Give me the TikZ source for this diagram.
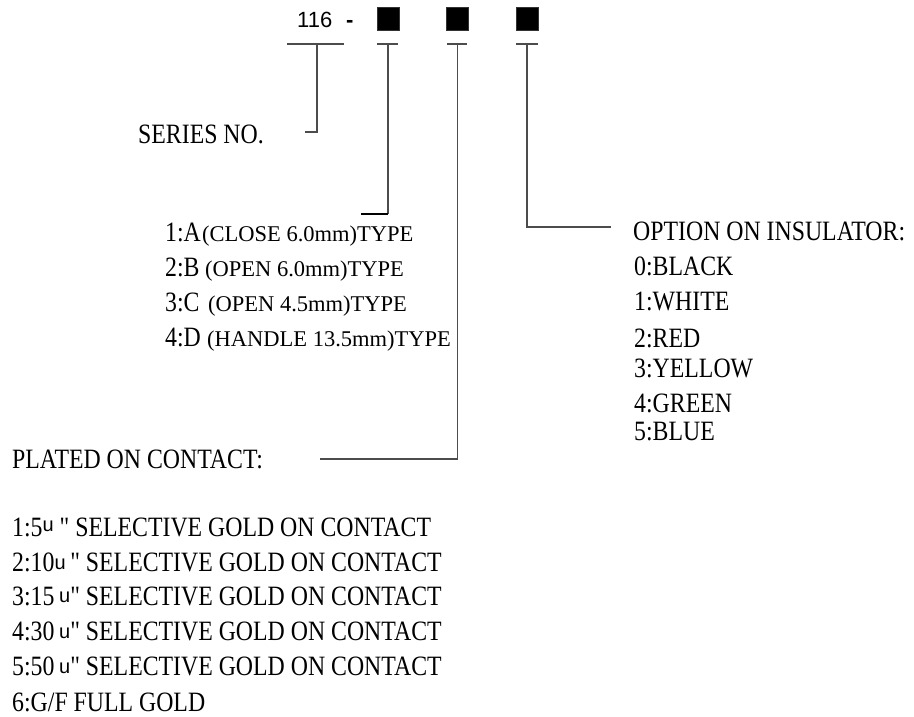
\documentclass[tikz,border=0pt]{standalone}
\usepackage{fontspec}
\setmainfont{Liberation Serif}[FakeStretch=0.85, Ligatures=TeXOff]
\newfontfamily\plainserif{Liberation Serif}
\newfontfamily\sansf{Liberation Sans}
\newcommand{\uu}[1]{{\sansf\fontsize{20}{20}\selectfont\raisebox{#1pt}{u}}}
\tikzset{
  lbl/.style={anchor=base west, inner sep=0pt, font=\fontsize{28}{28}\selectfont},
  sml/.style={anchor=base west, inner sep=0pt, font=\plainserif\fontsize{22.5}{22.5}\selectfont},
  conn/.style={draw=black!70, line width=1.3pt},
  tick/.style={draw=black!70, line width=1.3pt},
  sq/.style={fill=black, draw=black!80, line width=1pt, minimum width=22pt, minimum height=23pt, inner sep=0pt},
  code/.style={anchor=base west, inner sep=0pt, font=\sansf\fontsize{22}{22}\selectfont},
}
\begin{document}
\begin{tikzpicture}[x=1pt,y=-1pt]
\useasboundingbox[fill=white] (0,0) rectangle (914,717);
% code header
\node[code] (num) at (297,28) {116};
\node[code, font=\sansf\bfseries\fontsize{22}{22}\selectfont] (dash) at (346,28) {-};
\node[sq] (s1) at (388,19.5) {};
\node[sq] (s2) at (457.5,19.5) {};
\node[sq] (s3) at (527,19.5) {};
% ticks
\coordinate (t0) at (317,44);
\coordinate (t1) at (388,44);
\coordinate (t2) at (457.5,44);
\coordinate (t3) at (527,44);
\draw[tick] (287,44) -- (344,44);
\draw[tick] (377,44) -- (398,44);
\draw[tick] (447,44) -- (467,44);
\draw[tick] (516,44) -- (538,44);
% end points
\coordinate (e0) at (305,132);
\coordinate (c1) at (388,214);
\coordinate (e1) at (361,214);
\coordinate (e2) at (320,459);
\coordinate (e3) at (611,227);
\draw[conn] (t0) |- (e0);
\draw[conn] (t1) -- (c1);
\draw[black, line width=2pt] (c1) -- (e1);
\draw[conn] (t2) |- (e2);
\draw[conn] (t3) |- (e3);
% series
\node[lbl] (series) at (138,143) {SERIES NO.};
% types
\node[lbl] (ta) at (165,241) {1:A};
\node[sml] (tat) at (202,241) {(CLOSE 6.0mm)TYPE};
\node[lbl] (tb) at (165,276) {2:B};
\node[sml] (tbt) at (205,276) {(OPEN 6.0mm)TYPE};
\node[lbl] (tc) at (165,311) {3:C};
\node[sml] (tct) at (208,311) {(OPEN 4.5mm)TYPE};
\node[lbl] (td) at (165,346) {4:D};
\node[sml] (tdt) at (207,346) {(HANDLE 13.5mm)TYPE};
% option
\node[lbl] (opt) at (633,240) {OPTION ON INSULATOR:};
\node[lbl] (o0) at (634,275) {0:BLACK};
\node[lbl] (o1) at (634,310) {1:WHITE};
\node[lbl] (o2) at (634,347) {2:RED};
\node[lbl] (o3) at (634,377) {3:YELLOW};
\node[lbl] (o4) at (634,412) {4:GREEN};
\node[lbl] (o5) at (634,440) {5:BLUE};
% plated
\node[lbl] (plated) at (12,468) {PLATED ON CONTACT:};
\node[lbl] (g1) at (12,536) {1:5\uu{5} " SELECTIVE GOLD ON CONTACT};
\node[lbl] (g2) at (12,571) {2:10\uu{2}\," SELECTIVE GOLD ON CONTACT};
\node[lbl] (g3) at (12,605) {3:15\,\uu{3}" SELECTIVE GOLD ON CONTACT};
\node[lbl] (g4) at (12,640) {4:30\,\uu{2}" SELECTIVE GOLD ON CONTACT};
\node[lbl] (g5) at (12,675) {5:50\,\uu{2}" SELECTIVE GOLD ON CONTACT};
\node[lbl] (g6) at (12,711) {6:G/F FULL GOLD};
\end{tikzpicture}
\end{document}
